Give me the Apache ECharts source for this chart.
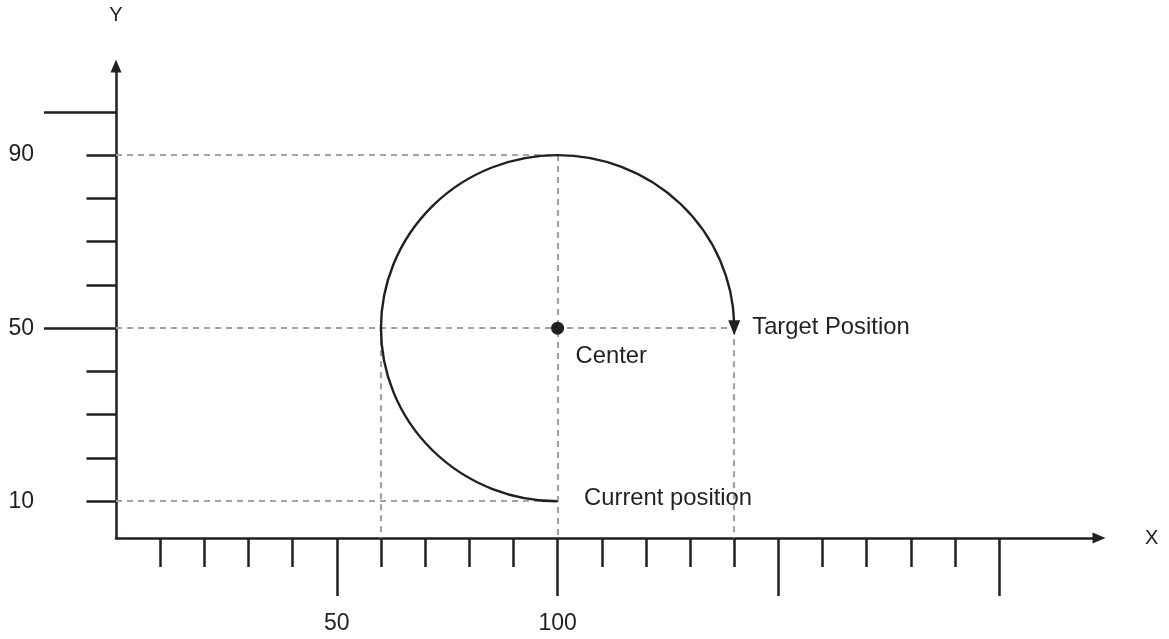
<!DOCTYPE html>
<html>
<head>
<meta charset="utf-8">
<script src="https://cdn.jsdelivr.net/npm/echarts@6/dist/echarts.min.js"></script>
<style>
html,body{margin:0;padding:0;background:#fff;}
#chart{width:1169px;height:639px;}
</style>
</head>
<body>
<div id="chart"></div>
<script>
// ---- data ----
const X_MIN = 0, X_MAX = 222.6;
const Y_MIN = 1.5, Y_MAX = 110.6;
const xShortTicks = [10, 20, 30, 40, 60, 70, 80, 90, 110, 120, 130, 140, 160, 170, 180, 190];
const xLongTicks = [50, 100, 150, 200];
const xTickLabels = [50, 100];
const yShortTicks = [10, 20, 30, 40, 60, 70, 80, 90];
const yLongTicks = [50, 100];
const yTickLabels = [10, 50, 90];
const centerPoint = [100, 50];
const currentPoint = [100, 10];
const targetPoint = [140, 50];
const guideLines = [
  [[0, 90], [100, 90]],
  [[0, 50], [140, 50]],
  [[0, 10], [100, 10]],
  [[60, 50], [60, Y_MIN]],
  [[100, 90], [100, Y_MIN]],
  [[140, 50], [140, Y_MIN]]
];
const annotations = [
  { name: 'Center', value: centerPoint },
  { name: 'Target Position', value: targetPoint },
  { name: 'Current position', value: currentPoint }
];

// ---- style ----
const INK = '#231f20';
const FONT = '"Liberation Sans", Arial, Helvetica, sans-serif';
const labelOffsets = [[17.5, 28], [17.5, -0.5], [26, -3]];

const chart = echarts.init(document.getElementById('chart'), null, { renderer: 'canvas' });

const baseX = { type: 'value', min: X_MIN, max: X_MAX, gridIndex: 0, position: 'bottom', splitLine: { show: false } };
const baseY = { type: 'value', min: Y_MIN, max: Y_MAX, gridIndex: 0, position: 'left', splitLine: { show: false } };

const option = {
  animation: false,
  backgroundColor: '#fff',
  grid: { left: 116, right: 70, top: 66, bottom: 101, containLabel: false, outerBoundsMode: 'none' },
  xAxis: [
    Object.assign({}, baseX, {
      name: 'X', nameLocation: 'end', nameGap: 46,
      nameTextStyle: { color: INK, fontSize: 20, fontFamily: FONT, verticalAlign: 'middle', align: 'left' },
      axisLine: { show: true, onZero: false, symbol: ['none', 'triangle'], symbolSize: [11, 13], lineStyle: { color: INK, width: 2.5 } },
      axisTick: { show: true, customValues: xShortTicks, length: 29, lineStyle: { color: INK, width: 2.5 } },
      axisLabel: { show: false }
    }),
    Object.assign({}, baseX, {
      axisLine: { show: false, onZero: false },
      axisTick: { show: true, customValues: xLongTicks, length: 58, lineStyle: { color: INK, width: 2.5 } },
      axisLabel: { show: true, customValues: xTickLabels, margin: 74, color: INK, fontSize: 23, fontFamily: FONT }
    })
  ],
  yAxis: [
    Object.assign({}, baseY, {
      name: 'Y', nameLocation: 'end', nameGap: 51,
      nameTextStyle: { color: INK, fontSize: 20, fontFamily: FONT, verticalAlign: 'middle', align: 'center' },
      axisLine: { show: true, onZero: false, symbol: ['none', 'triangle'], symbolSize: [11, 13], lineStyle: { color: INK, width: 2.5 } },
      axisTick: { show: true, customValues: yShortTicks, length: 29.5, lineStyle: { color: INK, width: 2.5 } },
      axisLabel: { show: true, customValues: yTickLabels, margin: 82, color: INK, fontSize: 23, fontFamily: FONT }
    }),
    Object.assign({}, baseY, {
      axisLine: { show: false, onZero: false },
      axisTick: { show: true, customValues: yLongTicks, length: 72, lineStyle: { color: INK, width: 2.5 } },
      axisLabel: { show: false }
    })
  ],
  series: [
    {
      type: 'lines',
      coordinateSystem: 'cartesian2d',
      xAxisIndex: 0, yAxisIndex: 0,
      silent: true,
      lineStyle: { color: '#a3a3a3', width: 2.2, type: [6, 5], opacity: 1, curveness: 0 },
      data: guideLines.map(c => ({ coords: c })),
      z: 1
    },
    {
      type: 'custom',
      xAxisIndex: 0, yAxisIndex: 0,
      silent: true,
      clip: false,
      data: [centerPoint],
      encode: { x: 0, y: 1 },
      renderItem: function (params, api) {
        const c = api.coord(centerPoint);
        const s = api.coord(currentPoint);
        const e = api.coord(targetPoint);
        const r = Math.abs(e[0] - c[0]);
        const ry = Math.abs(s[1] - c[1]);
        const a0 = Math.atan2((s[1] - c[1]) / ry, (s[0] - c[0]) / r);
        let a1 = Math.atan2((e[1] - c[1]) / ry, (e[0] - c[0]) / r);
        if (a1 <= a0) a1 += Math.PI * 2;
        return {
          type: 'group',
          children: [
            {
              type: 'arc',
              x: c[0], y: c[1],
              scaleY: ry / r,
              shape: { cx: 0, cy: 0, r: r, startAngle: a0, endAngle: a1 - 0.03, clockwise: true },
              style: { stroke: INK, lineWidth: 2.4, fill: null, strokeNoScale: true }
            },
            {
              type: 'polygon',
              shape: { points: [[e[0], e[1] + 7], [e[0] - 6, e[1] - 8], [e[0] + 6, e[1] - 8]] },
              style: { fill: INK, stroke: null }
            }
          ]
        };
      },
      z: 3
    },
    {
      type: 'scatter',
      xAxisIndex: 0, yAxisIndex: 0,
      silent: true,
      symbol: 'circle',
      symbolSize: 13,
      itemStyle: { color: INK, opacity: 1 },
      data: [centerPoint],
      z: 4
    },
    {
      type: 'scatter',
      xAxisIndex: 0, yAxisIndex: 0,
      silent: true,
      symbolSize: 1,
      itemStyle: { color: 'rgba(0,0,0,0)', opacity: 1 },
      data: annotations.map((a, i) => ({
        name: a.name,
        value: a.value,
        label: { offset: labelOffsets[i] }
      })),
      label: {
        show: true, position: 'right', distance: 0, formatter: '{b}',
        color: INK, fontSize: 23.8, fontFamily: FONT
      },
      z: 5
    }
  ]
};
chart.setOption(option);
</script>
</body>
</html>
